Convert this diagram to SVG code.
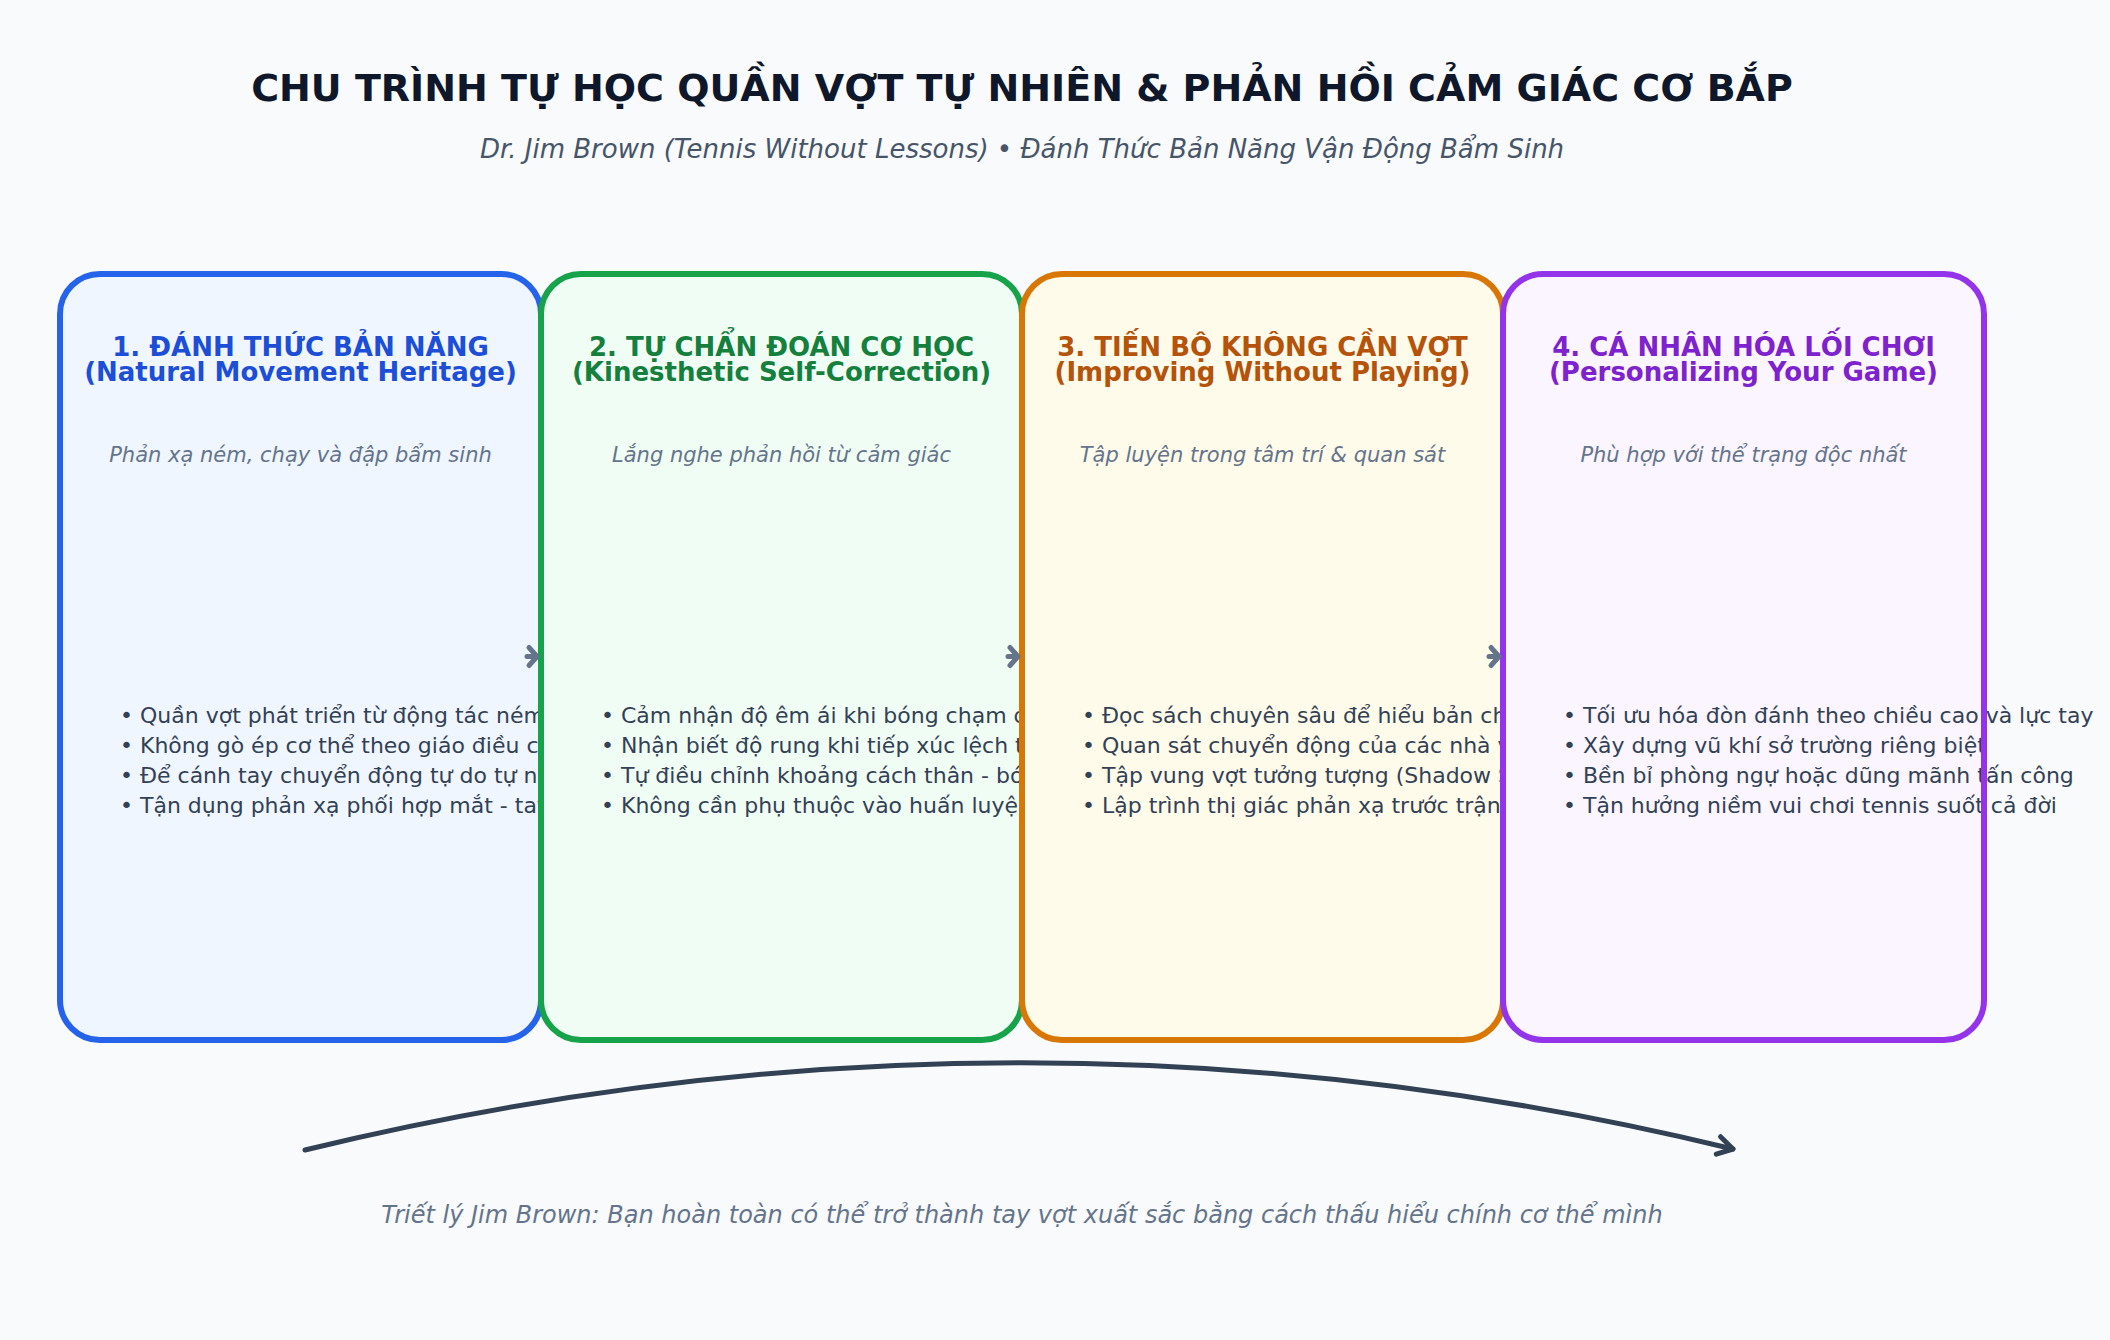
<svg xmlns="http://www.w3.org/2000/svg" width="2110" height="1340" viewBox="0 0 2110 1340">
<defs>
<style>
text{font-family:"DejaVu Sans","Noto Sans",sans-serif}
.title{font-size:38px;font-weight:bold;fill:#0f172a;text-anchor:middle}
.sub{font-size:26px;font-style:italic;fill:#475569;text-anchor:middle}
.foot{font-size:24px;font-style:italic;fill:#64748b;text-anchor:middle}
.h{font-size:26px;font-weight:bold;text-anchor:middle}
.tag{font-size:21px;font-style:italic;fill:#64748b;text-anchor:middle}
.b{font-size:22px;fill:#334155}
.bd{fill:none;stroke-width:6}
.c1 .fl{fill:#eff6ff}.c1 .bd{stroke:#2563eb}.c1 .h{fill:#1d4ed8}
.c2 .fl{fill:#f0fdf4}.c2 .bd{stroke:#16a34a}.c2 .h{fill:#15803d}
.c3 .fl{fill:#fffbeb}.c3 .bd{stroke:#d97706}.c3 .h{fill:#b45309}
.c4 .fl{fill:#faf5ff}.c4 .bd{stroke:#9333ea}.c4 .h{fill:#7e22ce}
.step{fill:none;stroke:#64748b;stroke-width:5;stroke-linecap:round;stroke-linejoin:round}
.cycle{fill:none;stroke:#334155;stroke-width:5;stroke-linecap:round}
</style>
<marker id="head" markerUnits="userSpaceOnUse" viewBox="-22 -14 26 28" markerWidth="26" markerHeight="28" refX="0" refY="0" orient="auto">
<path d="M-15,-9 L0,0 L-15,9" fill="none" stroke="#334155" stroke-width="5" stroke-linecap="round" stroke-linejoin="round"/>
</marker>
</defs>
<rect x="0" y="0" width="2110" height="1340" fill="#f8fafc"/>
<text class="title" x="1022" y="101">CHU TRÌNH TỰ HỌC QUẦN VỢT TỰ NHIÊN &amp; PHẢN HỒI CẢM GIÁC CƠ BẮP</text>
<text class="sub" x="1022" y="158">Dr. Jim Brown (Tennis Without Lessons) • Đánh Thức Bản Năng Vận Động Bẩm Sinh</text>

<g id="node1" class="c1">
<rect class="fl" x="60" y="274" width="481" height="766" rx="40"/>
<text class="h" x="300.5" y="356">1. ĐÁNH THỨC BẢN NĂNG</text>
<text class="h" x="300.5" y="381">(Natural Movement Heritage)</text>
<text class="tag" x="300.5" y="462">Phản xạ ném, chạy và đập bẩm sinh</text>
<text class="b" x="120" y="723">• Quần vợt phát triển từ động tác ném</text>
<text class="b" x="120" y="753">• Không gò ép cơ thể theo giáo điều c</text>
<text class="b" x="120" y="783">• Để cánh tay chuyển động tự do tự n</text>
<text class="b" x="120" y="813">• Tận dụng phản xạ phối hợp mắt - tay</text>
<rect class="bd" x="60" y="274" width="481" height="766" rx="40"/>
</g>

<g id="node2" class="c2">
<rect class="fl" x="541" y="274" width="481" height="766" rx="40"/>
<text class="h" x="781.5" y="356">2. TỰ CHẨN ĐOÁN CƠ HỌC</text>
<text class="h" x="781.5" y="381">(Kinesthetic Self-Correction)</text>
<text class="tag" x="781.5" y="462">Lắng nghe phản hồi từ cảm giác</text>
<text class="b" x="601" y="723">• Cảm nhận độ êm ái khi bóng chạm đ</text>
<text class="b" x="601" y="753">• Nhận biết độ rung khi tiếp xúc lệch t</text>
<text class="b" x="601" y="783">• Tự điều chỉnh khoảng cách thân - bó</text>
<text class="b" x="601" y="813">• Không cần phụ thuộc vào huấn luyện</text>
<rect class="bd" x="541" y="274" width="481" height="766" rx="40"/>
</g>

<g id="node3" class="c3">
<rect class="fl" x="1022" y="274" width="481" height="766" rx="40"/>
<text class="h" x="1262.5" y="356">3. TIẾN BỘ KHÔNG CẦN VỢT</text>
<text class="h" x="1262.5" y="381">(Improving Without Playing)</text>
<text class="tag" x="1262.5" y="462">Tập luyện trong tâm trí &amp; quan sát</text>
<text class="b" x="1082" y="723">• Đọc sách chuyên sâu để hiểu bản ch</text>
<text class="b" x="1082" y="753">• Quan sát chuyển động của các nhà v</text>
<text class="b" x="1082" y="783">• Tập vung vợt tưởng tượng (Shadow S</text>
<text class="b" x="1082" y="813">• Lập trình thị giác phản xạ trước trận</text>
<rect class="bd" x="1022" y="274" width="481" height="766" rx="40"/>
</g>

<g id="node4" class="c4">
<rect class="fl" x="1503" y="274" width="481" height="766" rx="40"/>
<text class="h" x="1743.5" y="356">4. CÁ NHÂN HÓA LỐI CHƠI</text>
<text class="h" x="1743.5" y="381">(Personalizing Your Game)</text>
<text class="tag" x="1743.5" y="462">Phù hợp với thể trạng độc nhất</text>
<text class="b" x="1563" y="723">• Tối ưu hóa đòn đánh theo chiều cao và lực tay</text>
<text class="b" x="1563" y="753">• Xây dựng vũ khí sở trường riêng biệt</text>
<text class="b" x="1563" y="783">• Bền bỉ phòng ngự hoặc dũng mãnh tấn công</text>
<text class="b" x="1563" y="813">• Tận hưởng niềm vui chơi tennis suốt cả đời</text>
<rect class="bd" x="1503" y="274" width="481" height="766" rx="40"/>
</g>

<g id="connectors">
<path class="step" d="M527,656.5 L537,656.5 M529,647.5 L537,656.5 L529,665.5"/>
<path class="step" d="M1008,656.5 L1018,656.5 M1010,647.5 L1018,656.5 L1010,665.5"/>
<path class="step" d="M1489,656.5 L1499,656.5 M1491,647.5 L1499,656.5 L1491,665.5"/>
<path class="cycle" d="M305,1150 Q1020,976 1733,1149" marker-end="url(#head)"/>
</g>

<text class="foot" x="1022" y="1223">Triết lý Jim Brown: Bạn hoàn toàn có thể trở thành tay vợt xuất sắc bằng cách thấu hiểu chính cơ thể mình</text>
</svg>
